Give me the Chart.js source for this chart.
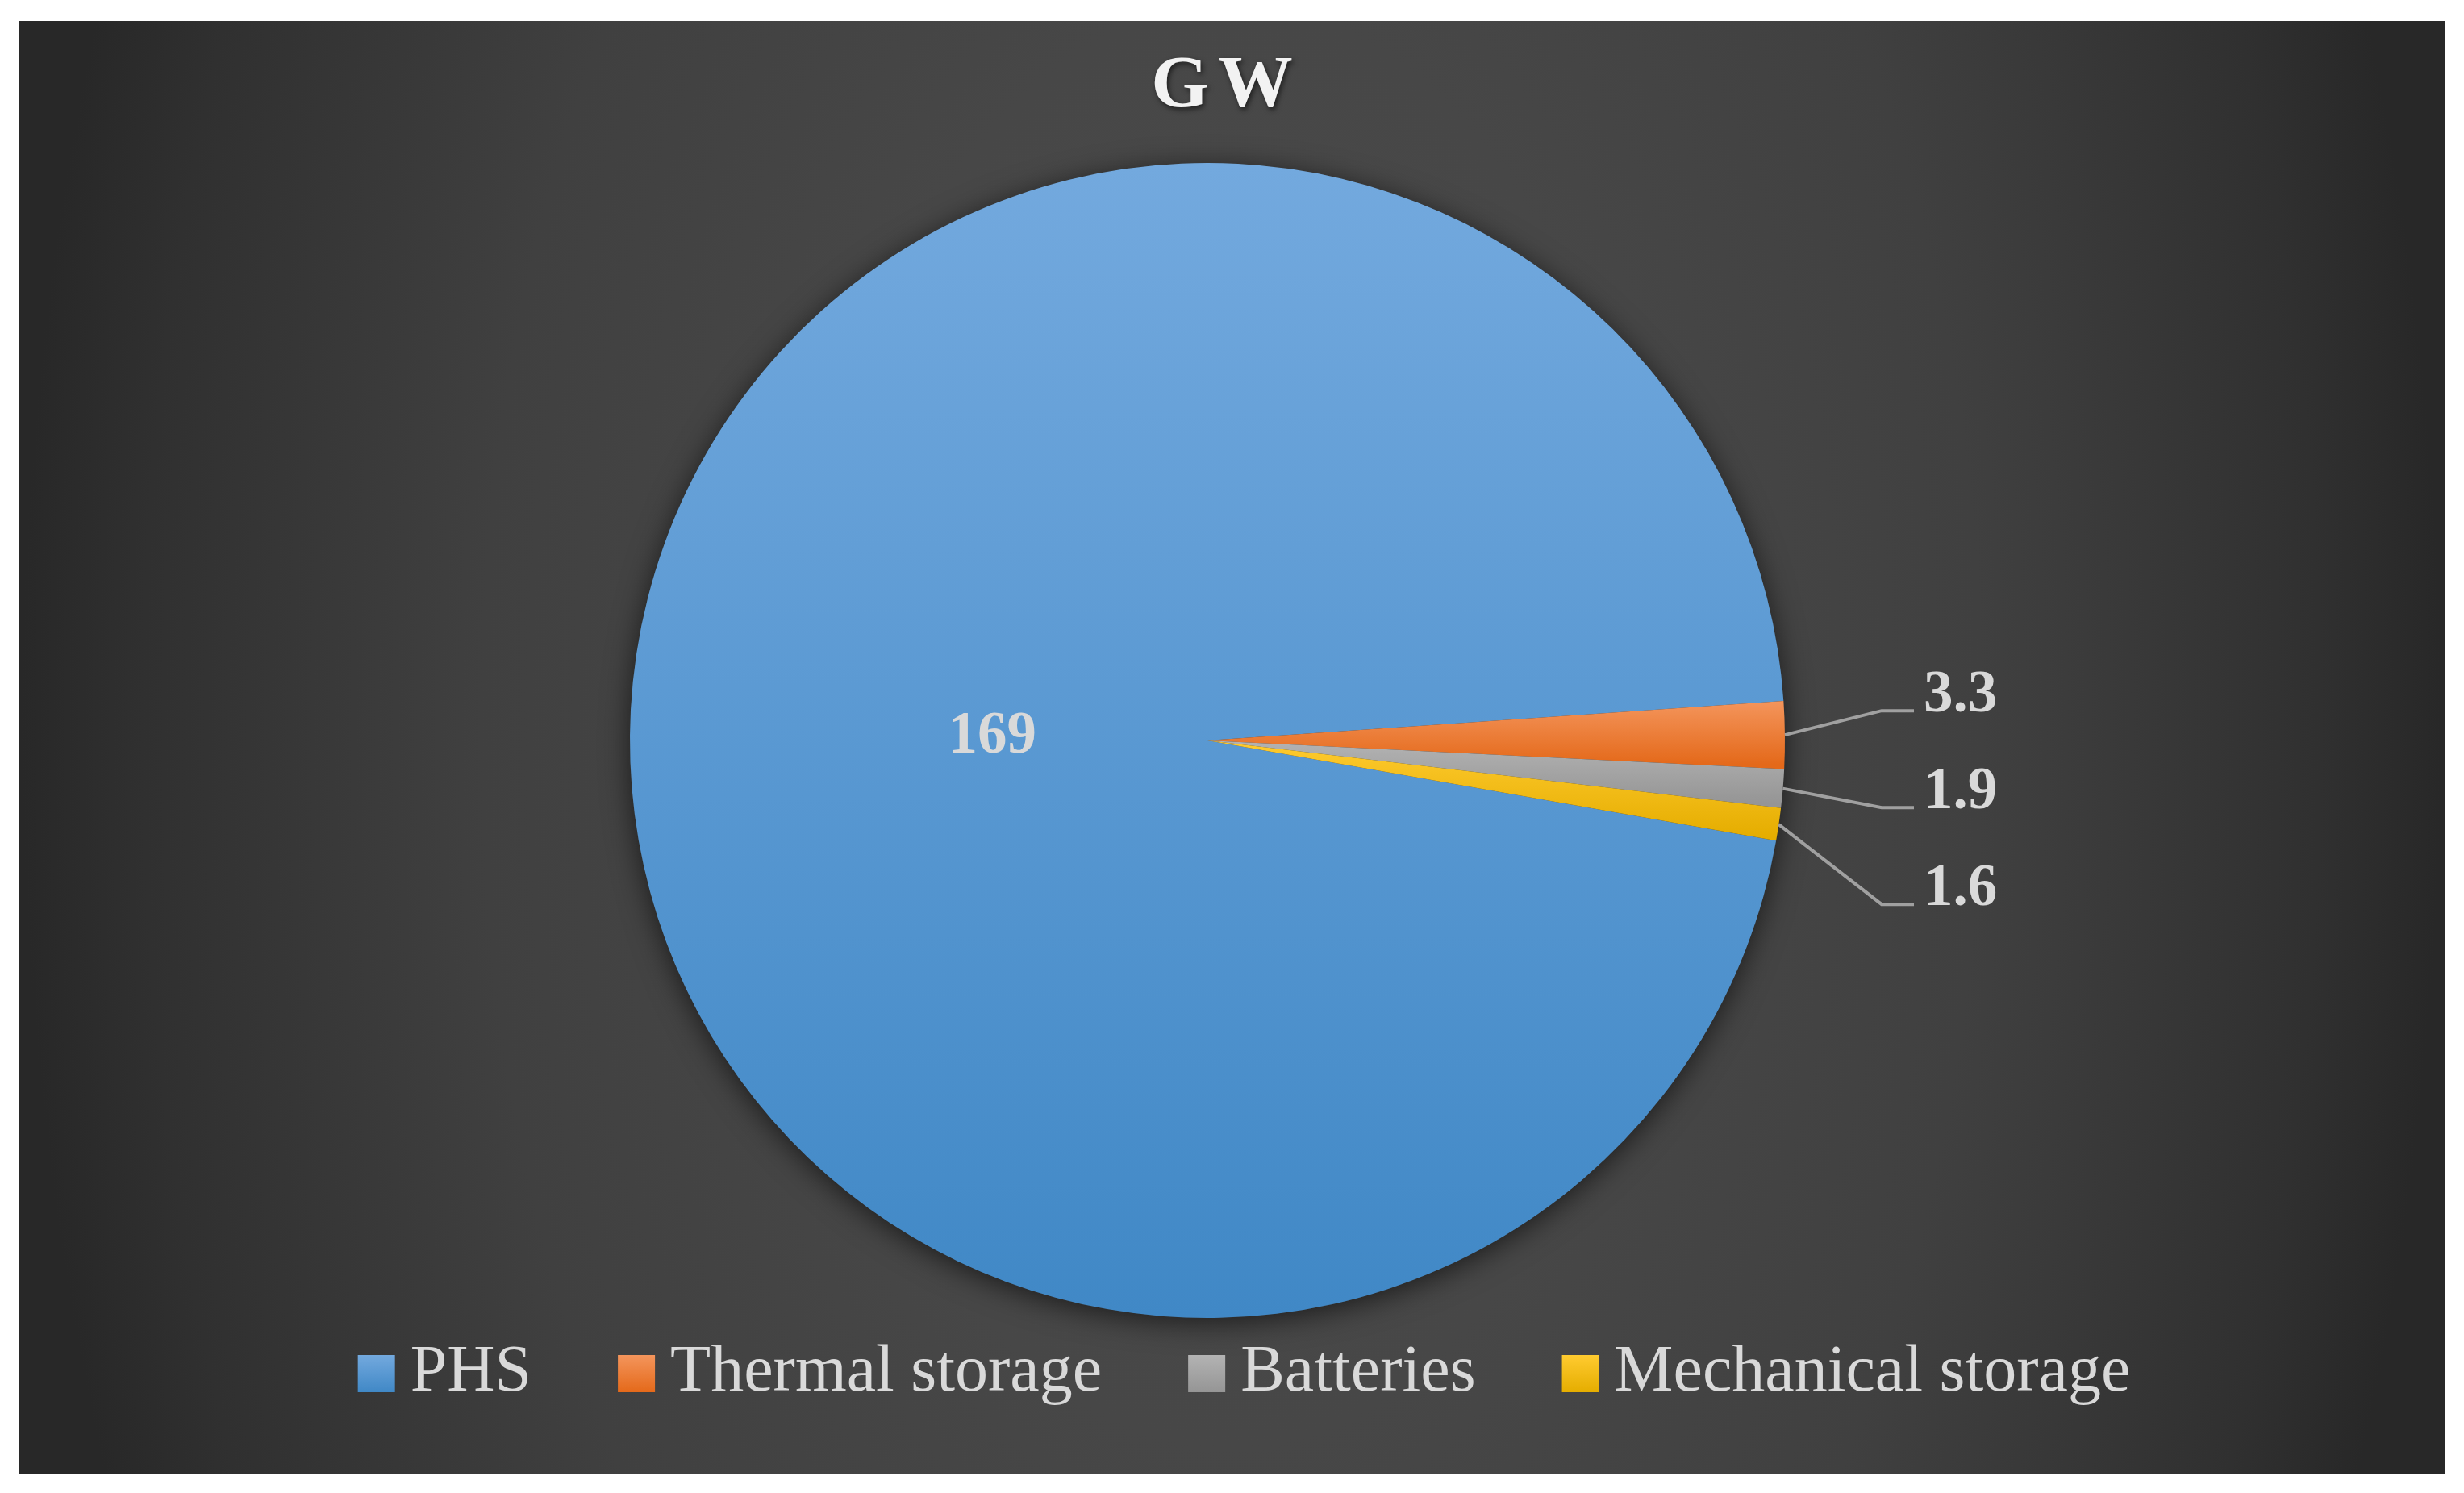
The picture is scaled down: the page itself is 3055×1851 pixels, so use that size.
<!DOCTYPE html>
<html>
<head>
<meta charset="utf-8">
<script src="https://cdn.jsdelivr.net/npm/chart.js@4.4.1/dist/chart.umd.min.js"></script>
<style>
  html, body { margin: 0; padding: 0; background: #fff; }
  canvas { display: block; }
</style>
</head>
<body>
<canvas id="chart" width="3055" height="1851"></canvas>
<script>
const labels = ['PHS', 'Thermal storage', 'Batteries', 'Mechanical storage']
const values = [169, 3.3, 1.9, 1.6]
const valueLabels = ['169', '3.3', '1.9', '1.6']
const titleText = 'GW'

// slice colours, light at the top of each shape and darker at the bottom
const baseColors = ['#5b9bd5', '#ed7d31', '#a5a5a5', '#ffc000']
const topColors = ['#73a9de', '#f4955c', '#b3b3b3', '#ffcb30']
const bottomColors = ['#4088c6', '#e4691a', '#959595', '#e5ad00']

const SERIF = "'Liberation Serif', 'DejaVu Serif', serif"
const TEXT = '#d9d9d9'

// dark panel with a soft radial light in the middle
const background = {
  id: 'background',
  beforeDraw(chart) {
    const { ctx, width, height } = chart
    ctx.save()
    ctx.fillStyle = '#ffffff'
    ctx.fillRect(0, 0, width, height)
    const x0 = 23, y0 = 26, x1 = width - 24, y1 = height - 23
    ctx.beginPath()
    ctx.rect(x0, y0, x1 - x0, y1 - y0)
    ctx.clip()
    const cx = (x0 + x1) / 2, cy = 900, rx = 1500, sy = 1.7
    ctx.translate(cx, cy)
    ctx.scale(1, sy)
    const g = ctx.createRadialGradient(0, 0, 0, 0, 0, rx)
    g.addColorStop(0, '#4b4b4b')
    g.addColorStop(0.35, '#474747')
    g.addColorStop(0.62, '#404040')
    g.addColorStop(0.9, '#303030')
    g.addColorStop(1, '#282828')
    ctx.fillStyle = g
    ctx.fillRect(-cx, -cy / sy, width, height / sy)
    ctx.restore()

    // spaced bold title with a faint shadow
    ctx.save()
    ctx.font = `bold 92px ${SERIF}`
    ctx.letterSpacing = '12px'
    ctx.textAlign = 'center'
    ctx.textBaseline = 'alphabetic'
    ctx.shadowColor = 'rgba(0, 0, 0, 0.6)'
    ctx.shadowBlur = 6
    ctx.shadowOffsetX = 2
    ctx.shadowOffsetY = 3
    ctx.fillStyle = '#f2f2f2'
    ctx.fillText(titleText, 1521, 132)
    ctx.restore()
  },
}

// soft drop shadow under the pie + per-slice vertical gradients
const pieShadow = {
  id: 'pieShadow',
  beforeDatasetsDraw(chart) {
    const { ctx } = chart
    const arcs = chart.getDatasetMeta(0).data
    if (!arcs.length) return
    const { x, y, outerRadius } = arcs[0].getProps(['x', 'y', 'outerRadius'], true)
    ctx.save()
    ctx.shadowColor = 'rgba(0, 0, 0, 0.6)'
    ctx.shadowBlur = 35
    ctx.shadowOffsetY = 6
    ctx.fillStyle = '#3a3a3a'
    ctx.beginPath()
    ctx.arc(x, y, outerRadius, 0, Math.PI * 2)
    ctx.fill()
    ctx.restore()

    arcs.forEach((arc, i) => {
      const p = arc.getProps(['x', 'y', 'startAngle', 'endAngle', 'outerRadius'], true)
      let top = p.y, bottom = p.y
      if (p.endAngle - p.startAngle > Math.PI) {
        top = p.y - p.outerRadius
        bottom = p.y + p.outerRadius
      } else {
        for (let a = p.startAngle; a <= p.endAngle; a += 0.01) {
          const yy = p.y + Math.sin(a) * p.outerRadius
          top = Math.min(top, yy)
          bottom = Math.max(bottom, yy)
        }
      }
      const g = ctx.createLinearGradient(0, top, 0, bottom)
      g.addColorStop(0, topColors[i])
      g.addColorStop(1, bottomColors[i])
      arc.options = Object.assign({}, arc.options, { backgroundColor: g })
    })
  },
}

const sliceLabels = {
  id: 'sliceLabels',
  afterDatasetsDraw(chart) {
    const { ctx } = chart
    const arcs = chart.getDatasetMeta(0).data
    ctx.save()
    ctx.font = `bold 73px ${SERIF}`
    ctx.fillStyle = TEXT
    ctx.strokeStyle = '#a0a0a0'
    ctx.lineWidth = 4
    let prevY = -Infinity
    arcs.forEach((arc, i) => {
      const { x, y, startAngle, endAngle, outerRadius } =
        arc.getProps(['x', 'y', 'startAngle', 'endAngle', 'outerRadius'], true)
      const mid = (startAngle + endAngle) / 2
      if (endAngle - startAngle > Math.PI / 6) {
        ctx.textAlign = 'center'
        ctx.textBaseline = 'alphabetic'
        const d = outerRadius * 0.373
        ctx.fillText(valueLabels[i], x + Math.cos(mid) * d, y + Math.sin(mid) * d + 29)
        return
      }
      const sx = x + Math.cos(mid) * outerRadius
      const sy = y + Math.sin(mid) * outerRadius
      const ly = Math.max(sy - 30, prevY + 120)
      prevY = ly
      const ex = x + outerRadius + 120
      ctx.beginPath()
      ctx.moveTo(sx, sy)
      ctx.lineTo(ex, ly)
      ctx.lineTo(ex + 40, ly)
      ctx.stroke()
      ctx.textAlign = 'left'
      ctx.textBaseline = 'alphabetic'
      ctx.fillText(valueLabels[i], ex + 52, ly + 1)
    })
    ctx.restore()
  },
}

const legendRow = {
  id: 'legendRow',
  afterDraw(chart) {
    const { ctx } = chart
    ctx.save()
    ctx.font = `82px ${SERIF}`
    const box = 46, gap = 19, spacing = 107, baseY = 1724
    const widths = labels.map(t => ctx.measureText(t).width)
    const total = widths.reduce((s, w) => s + box + gap + w, 0) + spacing * (labels.length - 1)
    let x = chart.width / 2 + 15 - total / 2
    labels.forEach((t, i) => {
      const g = ctx.createLinearGradient(0, baseY - 44, 0, baseY + 2)
      g.addColorStop(0, topColors[i])
      g.addColorStop(1, bottomColors[i])
      ctx.fillStyle = g
      ctx.fillRect(x, baseY - 44, box, box)
      x += box + gap
      ctx.fillStyle = TEXT
      ctx.textAlign = 'left'
      ctx.textBaseline = 'alphabetic'
      ctx.fillText(t, x, baseY)
      x += widths[i] + spacing
    })
    ctx.restore()
  },
}

new Chart(document.getElementById('chart'), {
  type: 'pie',
  data: {
    labels,
    datasets: [
      {
        data: values,
        backgroundColor: baseColors,
        borderWidth: 0,
        hoverOffset: 0,
      },
    ],
  },
  options: {
    responsive: false,
    animation: false,
    rotation: 100,
    layout: { padding: { top: 202, bottom: 217, left: 781, right: 842 } },
    plugins: {
      legend: { display: false },
      tooltip: { enabled: false },
      title: { display: false },
    },
  },
  plugins: [background, pieShadow, sliceLabels, legendRow],
})
</script>
</body>
</html>
